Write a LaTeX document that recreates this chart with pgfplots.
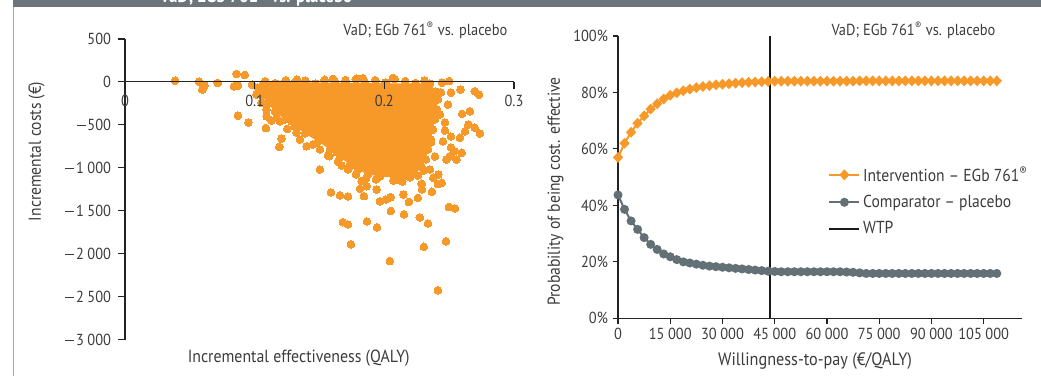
\documentclass[border=0pt]{standalone}
\usepackage{fontspec}
\setmainfont{PT Sans}[FakeStretch=0.9]
\usepackage{pgfplots}
\pgfplotsset{compat=1.18}
\usepackage{pgfplotstable}
\definecolor{orng}{RGB}{247,153,41}
\definecolor{gry}{RGB}{99,112,118}
\definecolor{hdr}{RGB}{108,117,122}
\definecolor{txt}{RGB}{60,60,60}
\definecolor{axl}{RGB}{35,35,35}
\newcommand\mn{\rule[0.27em]{0.58em}{0.065em}\hspace{0.1em}}
\newcommand\ts{\hspace{0.22em}}

\pgfplotstableread{
x int comp
0 57.0 43.7
1875 62.0 38.6
3750 65.9 34.5
5625 69.1 31.5
7500 71.7 28.6
9375 74.1 26.2
11250 76.0 24.4
13125 77.7 22.8
15000 79.0 21.8
16875 79.9 20.8
18750 80.6 20.0
20625 81.2 19.6
22500 81.7 19.2
24375 82.1 18.8
26250 82.4 18.5
28125 82.7 18.3
30000 82.9 18.1
31875 83.1 17.9
33750 83.3 17.7
35625 83.5 17.5
37500 83.6 17.3
39375 83.7 17.1
41250 83.8 16.9
43125 83.9 16.7
45000 84.0 16.6
46875 84.0 16.5
48750 84.0 16.5
50625 84.0 16.5
52500 84.0 16.5
54375 84.0 16.5
56250 84.0 16.5
58125 84.0 16.5
60000 84.0 16.5
61875 84.0 16.5
63750 84.0 16.5
65625 84.0 16.4
67500 84.0 16.3
69375 84.1 16.1
71250 84.1 15.9
73125 84.1 15.9
75000 84.1 15.9
76875 84.1 15.9
78750 84.1 15.9
80625 84.1 15.9
82500 84.1 15.9
84375 84.1 15.9
86250 84.1 15.9
88125 84.1 15.9
90000 84.1 15.9
91875 84.1 15.9
93750 84.1 15.9
95625 84.1 15.9
97500 84.1 15.9
99375 84.1 15.9
101250 84.1 15.9
103125 84.1 15.9
105000 84.1 15.9
106875 84.1 15.9
108750 84.1 15.9
}\ceac

\begin{document}
\begin{tikzpicture}[font=\fontsize{12}{14}\selectfont, text=txt]
\useasboundingbox (0,0) rectangle (780.75pt,281.25pt);
\fill[hdr] (9.75pt,276pt) rectangle (790pt,300pt);
\node[anchor=base, text=white, font=\fontsize{14}{16}\selectfont\bfseries] at (192pt,279.4pt) {VaD; EGb 761\textsuperscript{®} vs. placebo};
\draw[black!35, line width=0.75pt] (9.75pt,-2pt) -- (9.75pt,276pt);

% ---------------- left: cost-effectiveness plane
\begin{axis}[
  at={(93.75pt,26.625pt)}, anchor=south west, scale only axis,
  width=291.75pt, height=225.375pt,
  xmin=0, xmax=0.3, ymin=-3000, ymax=500,
  axis on top, clip marker paths=true,
  axis x line=middle, axis y line=left,
  axis line style={-, draw=axl, line width=0.8pt},
  x axis line style={-}, y axis line style={-},
  every tick/.style={draw=axl, line width=0.8pt},
  tick align=outside, major tick length=5pt,
  xtick={0,0.1,0.2,0.3}, xticklabels={0,0.1,0.2,0.3},
  xticklabel style={yshift=-1pt},
  ytick={500,0,-500,-1000,-1500,-2000,-2500,-3000},
  yticklabels={500,0,\mn500,\mn1\ts000,\mn1\ts500,\mn2\ts000,\mn2\ts500,\mn3\ts000},
  yticklabel style={xshift=-2pt},
  hide obscured x ticks=false, hide obscured y ticks=false,
  clip=false,
]
\addplot[draw=none, fill=orng, forget plot] coordinates {
(0.104,0) (0.2352,-20) (0.2398,-113) (0.2413,-205) (0.2406,-322) (0.239,-438)
(0.2375,-555) (0.236,-671) (0.2336,-787) (0.232,-903) (0.229,-996) (0.2236,-1066)
(0.2159,-1101) (0.2082,-1113) (0.1966,-1101) (0.1874,-1078) (0.1796,-1020)
(0.1735,-962) (0.1658,-880) (0.158,-787) (0.1488,-694) (0.1388,-601) (0.131,-520)
(0.1234,-438) (0.1157,-345) (0.110,-252) (0.1056,-159) (0.1025,-66)} -- cycle;
\addplot[orng, only marks, mark=*, mark size=2.9pt, mark options={draw=orng, fill=orng, line width=0pt}] coordinates {
(0.1080,10) (0.1160,-15) (0.1240,20) (0.1310,-5) (0.1390,15) (0.1470,-20) (0.1540,25)
(0.1620,5) (0.1700,-10) (0.1780,30) (0.1850,0) (0.1930,20) (0.2010,-5) (0.2080,35)
(0.2160,10) (0.2240,-15) (0.2310,15)
(0.1326,27) (0.1835,45) (0.2066,47) (0.2500,10) (0.1604,35) (0.1789,38) (0.1700,20)
(0.0386,15) (0.0571,3) (0.0612,-43) (0.0596,-90) (0.0715,-12) (0.0840,-51) (0.0871,-43)
(0.0861,93) (0.0925,81) (0.0980,-31) (0.0871,-392) (0.0951,-473) (0.1087,-537)
(0.1208,-659) (0.1190,-756) (0.1251,-547)
(0.1025,-66) (0.1015,-148) (0.1054,-244) (0.1092,-322) (0.1092,-400) (0.1131,-450)
(0.1170,-415) (0.1195,-458) (0.1285,-458) (0.1310,-380) (0.1336,-516) (0.1349,-671)
(0.1401,-749) (0.1449,-729) (0.1322,-590) (0.1503,-787) (0.1565,-857) (0.1642,-927)
(0.1719,-1020) (0.1781,-1078) (0.1858,-1125) (0.1935,-1136) (0.2105,-1136)
(0.2197,-1113) (0.2259,-1090) (0.2305,-1032)
(0.1056,-159) (0.1100,-252) (0.1157,-345) (0.1234,-438) (0.1310,-520) (0.1388,-601)
(0.1488,-694) (0.1580,-787) (0.1658,-880) (0.1735,-962) (0.1796,-1020) (0.1874,-1078)
(0.1966,-1101) (0.2082,-1113) (0.2159,-1101) (0.2236,-1066) (0.2290,-996) (0.2320,-903)
(0.2336,-787) (0.2360,-671) (0.2375,-555) (0.2390,-438) (0.2406,-322) (0.2413,-205)
(0.2398,-113) (0.2352,-20)
(0.2436,-124) (0.2514,-124) (0.2490,-264) (0.2467,-473) (0.2467,-566) (0.2514,-636)
(0.2452,-694) (0.2514,-764) (0.2359,-706) (0.2390,-869) (0.2429,-380) (0.2444,-8)
(0.2737,-601) (0.2698,-535) (0.2660,-342) (0.2600,-372) (0.2647,-497) (0.2622,-574)
(0.2583,-651) (0.2540,-807) (0.2506,-865) (0.2480,-904) (0.2698,-109) (0.2730,-148)
(0.2588,-90)
(0.1503,-1020) (0.1588,-1287) (0.1658,-1322) (0.1719,-1334) (0.1681,-1633) (0.1719,-1660)
(0.1742,-1892) (0.1866,-1625) (0.1943,-1694) (0.2043,-2086) (0.1843,-1330) (0.2051,-1503)
(0.2151,-1543) (0.2274,-1578) (0.2336,-1648) (0.2305,-1921) (0.2475,-1857) (0.2413,-2427)
(0.2498,-1456) (0.2544,-1474) (0.2190,-1398) (0.2259,-1351) (0.2367,-1279) (0.2413,-1189)
(0.1966,-1389) (0.2012,-1369) (0.2049,-1342) (0.1812,-1244) (0.1864,-1214) (0.1941,-1253)
(0.2146,-1311) (0.2290,-1253) (0.2288,-1186) (0.2138,-1160) (0.2069,-1148) (0.1825,-1156)
(0.1671,-973) (0.1658,-884) (0.1735,-982) (0.1773,-973) (0.1575,-865) (0.1632,-819)
(0.2352,-1020) (0.2377,-1116) (0.2416,-1078) (0.2442,-1175) (0.2557,-904) (0.2596,-826)
};
\end{axis}
\node[anchor=base east] at (384pt,254.6pt) {VaD; EGb 761\textsuperscript{®} vs. placebo};
\node[anchor=base, font=\fontsize{13.2}{16}\selectfont] at (224pt,9.75pt) {Incremental effectiveness (QALY)};
\node[rotate=90, font=\fontsize{13}{16}\selectfont] at (27.4pt,167.6pt) {Incremental costs (€)};

% ---------------- right: CEAC
\begin{axis}[
  at={(463.5pt,42.5pt)}, anchor=south west, scale only axis,
  width=303pt, height=211.75pt,
  xmin=0, xmax=116000, ymin=0, ymax=100,
  axis x line=bottom, axis y line=left,
  axis line style={-, draw=axl, line width=0.8pt},
  x axis line style={-}, y axis line style={-},
  every tick/.style={draw=axl, line width=0.8pt},
  tick align=outside, major tick length=4pt,
  scaled x ticks=false,
  xtick={0,15000,30000,45000,60000,75000,90000,105000},
  xticklabels={0,15\ts000,30\ts000,45\ts000,60\ts000,75\ts000,90\ts000,105\ts000},
  ytick={0,20,40,60,80,100},
  yticklabels={0\%,20\%,40\%,60\%,80\%,100\%},
  clip=false,
  legend style={draw=none, fill=none, at={(0.52,0.415)}, anchor=west,
    legend cell align=left, row sep=5pt, inner sep=0pt,
    font=\fontsize{13}{15}\selectfont},
  legend image code/.code={\draw[mark repeat=2,mark phase=2,#1] plot coordinates {(0pt,0pt) (11.25pt,0pt) (22.5pt,0pt)};},
]
\addplot[orng, line width=1.5pt, mark=diamond*, mark size=3pt, mark options={xscale=1.25, draw=none, fill=orng}] table[x=x, y=int] {\ceac};
\addlegendentry{Intervention – EGb 761\textsuperscript{®}}
\addplot[gry, line width=1.5pt, mark=*, mark size=2.6pt, mark options={draw=none, fill=gry}] table[x=x, y=comp] {\ceac};
\addlegendentry{Comparator – placebo}
\addplot[black!90, line width=1.6pt] coordinates {(43750,0) (43750,100)};
\addlegendentry{WTP}
\end{axis}
\node[anchor=base east] at (750pt,254.6pt) {VaD; EGb 761\textsuperscript{®} vs. placebo};
\node[anchor=base, font=\fontsize{13.5}{16}\selectfont] at (611.25pt,7.5pt) {Willingness-to-pay (€/QALY)};
\node[rotate=90, font=\fontsize{13}{16}\selectfont] at (416.6pt,137.6pt) {Probability of being cost. effective};
\end{tikzpicture}
\end{document}
